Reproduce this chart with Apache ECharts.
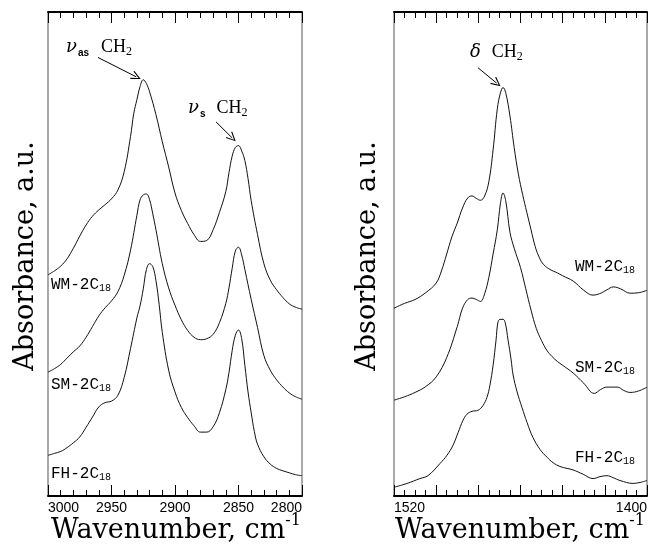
<!DOCTYPE html>
<html>
<head>
<meta charset="utf-8">
<script src="https://cdn.jsdelivr.net/npm/echarts@6/dist/echarts.min.js"></script>
<style>
  html, body { margin: 0; padding: 0; background: #fff; }
  #chart { width: 651px; height: 545px; }
</style>
</head>
<body>
<div id="chart"></div>
<script>
// C-H stretching region (cm^-1, absorbance a.u., spectra offset vertically)
const stretchWM = [[3000,45.7],[2995,46.5],[2990,47.5],[2985,49.0],[2980,51.2],[2975,53.7],[2970,56.0],[2965,57.8],[2960,59.1],[2955,60.2],[2950,61.4],[2945,63.2],[2940,67.0],[2935,74.3],[2932.5,79.0],[2930,81.9],[2927.5,84.6],[2925,86.0],[2922.5,85.2],[2920,83.5],[2915,78.8],[2910,73.2],[2905,68.0],[2900,62.6],[2895,59.0],[2890,56.3],[2885,54.0],[2880,52.6],[2875,52.8],[2870,55.0],[2865,58.6],[2860,62.9],[2857.5,66.8],[2855,70.2],[2852.5,72.0],[2850,72.4],[2847.5,71.3],[2845,69.3],[2842.5,65.6],[2840,61.0],[2835,54.0],[2830,48.0],[2825,44.6],[2820,42.6],[2815,41.0],[2810,39.7],[2805,39.0],[2800,38.6]];
const stretchSM = [[3000,25.6],[2995,26.3],[2990,27.2],[2985,28.5],[2980,29.8],[2975,31.0],[2970,32.8],[2965,35.0],[2960,37.2],[2955,38.9],[2950,40.3],[2945,42.2],[2940,45.6],[2935,50.8],[2930,58.0],[2927.5,61.2],[2925,62.2],[2922.5,62.4],[2920,61.2],[2917.5,58.3],[2915,55.0],[2910,48.0],[2905,43.0],[2900,39.4],[2895,36.4],[2890,34.2],[2885,32.8],[2880,32.3],[2875,32.5],[2870,33.4],[2865,35.8],[2860,39.8],[2857.5,43.0],[2855,47.0],[2852.5,50.6],[2850,51.4],[2847.5,49.8],[2845,46.8],[2840,40.6],[2835,34.8],[2830,29.0],[2825,26.0],[2820,24.0],[2815,22.5],[2810,21.3],[2805,20.5],[2800,20.0]];
const stretchFH = [[3000,8.4],[2995,8.8],[2990,9.2],[2985,10.0],[2980,11.0],[2975,12.2],[2970,14.2],[2965,16.3],[2960,18.4],[2955,19.3],[2950,19.6],[2945,20.8],[2940,24.5],[2935,30.5],[2930,36.8],[2927.5,39.3],[2925,42.8],[2922.5,46.8],[2920,48.0],[2917.5,47.4],[2915,44.5],[2912.5,39.6],[2910,33.8],[2905,26.0],[2900,21.5],[2895,18.3],[2890,16.2],[2885,14.5],[2880,13.2],[2875,13.2],[2870,14.3],[2865,17.2],[2860,22.0],[2857.5,25.5],[2855,30.0],[2852.5,33.2],[2850,34.3],[2847.5,32.5],[2845,27.0],[2842.5,21.5],[2840,17.2],[2837.5,13.3],[2835,10.7],[2830,8.1],[2825,6.6],[2820,5.7],[2815,5.2],[2810,4.8],[2805,4.4],[2800,4.2]];

// CH2 bending region
const bendWM = [[1520,38.8],[1515,39.8],[1510,40.6],[1505,42.0],[1500,44.0],[1497.5,46.5],[1495,50.0],[1492.5,53.6],[1490,56.4],[1487.5,59.5],[1485,61.6],[1483,62.0],[1481,61.5],[1479,61.1],[1477,62.0],[1475,65.0],[1473,71.5],[1471,80.0],[1469.5,83.3],[1468.3,84.4],[1467,83.3],[1465,78.5],[1463,72.0],[1461,66.5],[1459,62.3],[1457,58.6],[1455,55.0],[1453,51.5],[1451,49.2],[1449,47.8],[1446,46.8],[1442.5,46.1],[1440,45.5],[1435,44.4],[1430,42.5],[1425.6,41.5],[1422.5,41.8],[1419,42.6],[1416,43.2],[1412.5,42.8],[1408,41.9],[1404,42.0],[1400,42.5]];
const bendSM = [[1520,19.8],[1515,20.5],[1510,21.4],[1505,22.6],[1500,24.6],[1495,28.6],[1490,35.0],[1487.5,38.8],[1485,40.6],[1483,40.9],[1481,40.6],[1479,40.2],[1477,41.8],[1475,45.2],[1473,50.0],[1471,55.0],[1469.5,60.5],[1468.3,62.6],[1467,61.0],[1465,54.5],[1463,51.2],[1460,47.2],[1457.5,42.8],[1455,38.4],[1452.5,34.6],[1450,32.1],[1447.5,30.1],[1445,28.8],[1442.5,27.8],[1440,27.0],[1435,25.4],[1430,23.3],[1425,21.2],[1422,22.0],[1419,22.5],[1414,22.5],[1411,21.8],[1408,21.4],[1404,21.7],[1400,22.5]];
const bendFH = [[1520,1.8],[1513.8,2.6],[1507.7,3.6],[1503.9,4.2],[1498.2,6.7],[1494.9,8.4],[1492,10.5],[1489.6,13.1],[1487.3,15.6],[1485.4,16.9],[1483,17.5],[1480.2,17.7],[1477.8,18.7],[1475.9,20.4],[1474.5,22.9],[1473,27.0],[1471.6,32.2],[1470.7,35.9],[1469.7,36.5],[1468.3,36.5],[1467.3,35.9],[1465.9,32.2],[1464.5,28.3],[1463.5,25.0],[1461.6,21.5],[1459.3,18.3],[1456.9,15.2],[1454.1,12.1],[1450.7,9.6],[1447.4,8.0],[1444.6,6.9],[1441.3,6.1],[1437.9,5.7],[1435.1,5.4],[1430.3,4.5],[1425.6,3.6],[1422.3,4.0],[1419,4.2],[1416.1,3.8],[1412.8,3.2],[1406.6,2.6],[1403.3,2.8],[1400,3.2]];

// axis ranges and labelled ticks
const stretchRange = [2800, 3000];
const bendRange = [1400, 1520];
const bendTickLabels = [1520, 1400];

// arrows pointing at the assigned bands: [from, to] in data units
const arrowAsym = [[2960.6, 90.6], [2930.5, 86.6]];
const arrowSym = [[2867.7, 77.3], [2855.0, 74.0]];
const arrowBend = [[1480.2, 88.5], [1471.3, 85.3]];

const chart = echarts.init(document.getElementById('chart'), null, { renderer: 'canvas' });

const chevron = 'path://M0,0 L5,10 L4,10.8 L0,2.6 L-4,10.8 L-5,10 Z';
const serif = '"DejaVu Serif", serif';
const roman = '"Liberation Serif", serif';
const mono = '"Liberation Mono", monospace';

function frameAxis(gridIndex, range, interval, minorSplit, pos, labels) {
  return {
    gridIndex, type: 'value', min: range[0], max: range[1], inverse: true,
    interval, position: pos,
    axisLine: { show: true, onZero: false, lineStyle: { color: '#000', width: 2 } },
    axisTick: { show: true, inside: true, length: 11, lineStyle: { color: '#000', width: 1 } },
    minorTick: { show: true, splitNumber: minorSplit, length: 6, lineStyle: { color: '#000', width: 1 } },
    splitLine: { show: false },
    minorSplitLine: { show: false },
    axisLabel: labels ? Object.assign({
      show: true, color: '#000', fontFamily: '"Liberation Sans", Arial, sans-serif',
      fontSize: 14, margin: 5, showMinLabel: true, showMaxLabel: true,
      alignMinLabel: 'right', alignMaxLabel: 'left', hideOverlap: false,
      formatter: v => String(v)
    }, labels) : { show: false }
  };
}

function trace(data, xi, yi, extra) {
  return Object.assign({
    type: 'line', data, xAxisIndex: xi, yAxisIndex: yi,
    showSymbol: false, symbol: 'none', smooth: 0.4,
    lineStyle: { color: '#111', width: 1 }, silent: true, z: 3
  }, extra || {});
}

function arrowMark(pairs) {
  return {
    silent: true, symbol: ['none', chevron], symbolSize: [9, 10],
    lineStyle: { color: '#000', width: 1, type: 'solid' },
    label: { show: false }, emphasis: { disabled: true },
    data: pairs.map(p => [{ coord: p[0] }, { coord: p[1] }])
  };
}

function sampleLabel(x, y, name) {
  return {
    type: 'text', x, y, z: 10,
    style: {
      text: '{a|' + name + '-2C}{s|18}',
      verticalAlign: 'middle', align: 'left',
      rich: {
        a: { fontFamily: mono, fontSize: 16, fill: '#000', lineHeight: 17 },
        s: { fontFamily: mono, fontSize: 10, fill: '#000', lineHeight: 10, verticalAlign: 'bottom' }
      }
    }
  };
}

function bandLabel(x, y, sym, sub, italic) {
  return {
    type: 'text', x, y, z: 10,
    style: {
      text: '{g|' + sym + '}' + (sub ? '{s|' + sub + '}' : '') + '{c|CH}{t|2}',
      verticalAlign: 'middle', align: 'left',
      rich: {
        g: { fontFamily: serif, fontStyle: italic ? 'italic' : 'normal', fontSize: 18, fill: '#000', lineHeight: 22 },
        s: { fontFamily: '"Liberation Sans", sans-serif', fontWeight: 'bold', fontSize: 10, fill: '#000', lineHeight: 14, verticalAlign: 'bottom', padding: [0, 0, 0, 1] },
        c: { fontFamily: roman, fontSize: 18, fill: '#000', lineHeight: 22, padding: [0, 0, 0, sub === 'as' ? 12 : 11] },
        t: { fontFamily: roman, fontSize: 12, fill: '#000', lineHeight: 14, verticalAlign: 'bottom' }
      }
    }
  };
}

function xTitle(cx) {
  return {
    type: 'text', x: cx, y: 531, z: 10,
    style: {
      text: '{w|Wavenumber, cm}{e|-1}',
      align: 'center', verticalAlign: 'middle',
      rich: {
        w: { fontFamily: serif, fontSize: 27, fill: '#000', lineHeight: 30 },
        e: { fontFamily: serif, fontSize: 16, fill: '#000', lineHeight: 36, verticalAlign: 'top' }
      }
    }
  };
}

function yTitle(cx) {
  return {
    type: 'text', x: cx, y: 256, rotation: Math.PI / 2, z: 10,
    style: {
      text: 'Absorbance, a.u.', fontFamily: serif, fontSize: 27, fill: '#000',
      align: 'center', verticalAlign: 'middle'
    }
  };
}

const option = {
  animation: false,
  backgroundColor: '#fff',
  grid: [
    { left: 48, top: 12, width: 254, height: 484, show: true, borderColor: '#555', borderWidth: 1, backgroundColor: 'transparent' },
    { left: 394, top: 12, width: 253, height: 484, show: true, borderColor: '#555', borderWidth: 1, backgroundColor: 'transparent' }
  ],
  xAxis: [
    frameAxis(0, stretchRange, 50, 5, 'bottom', {}),
    frameAxis(0, stretchRange, 50, 5, 'top', null),
    frameAxis(1, bendRange, 20, 4, 'bottom', {
      formatter: v => (bendTickLabels.indexOf(v) >= 0 ? String(v) : '')
    }),
    frameAxis(1, bendRange, 20, 4, 'top', null)
  ],
  yAxis: [
    { gridIndex: 0, type: 'value', min: 0, max: 100, show: false },
    { gridIndex: 1, type: 'value', min: 0, max: 100, show: false }
  ],
  series: [
    trace(stretchWM, 0, 0, { markLine: arrowMark([arrowAsym, arrowSym]) }),
    trace(stretchSM, 0, 0),
    trace(stretchFH, 0, 0),
    trace(bendWM, 2, 1, { markLine: arrowMark([arrowBend]) }),
    trace(bendSM, 2, 1),
    trace(bendFH, 2, 1)
  ],
  graphic: [
    yTitle(26), yTitle(368),
    xTitle(176), xTitle(520),
    sampleLabel(51, 285, 'WM'), sampleLabel(51, 385, 'SM'), sampleLabel(51, 474, 'FH'),
    sampleLabel(575, 267, 'WM'), sampleLabel(575, 368, 'SM'), sampleLabel(575, 458, 'FH'),
    bandLabel(66, 47, 'ν', 'as', true),
    bandLabel(188, 108, 'ν', 's', true),
    bandLabel(470, 52, 'δ', '', true)
  ]
};

chart.setOption(option);
</script>
</body>
</html>
